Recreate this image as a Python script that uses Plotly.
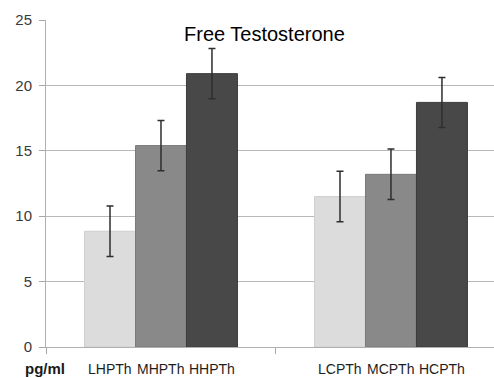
import plotly.graph_objects as go

# Free testosterone (pg/ml) by group, with error bars
groups = ["HPTh", "CPTh"]
levels = ["L", "M", "H"]
values = {
    "L": [8.85, 11.5],
    "M": [15.4, 13.2],
    "H": [20.9, 18.7],
}
errors = {
    "L": [1.93, 1.93],
    "M": [1.92, 1.93],
    "H": [1.93, 1.91],
}
fill_colors = {"L": "#dcdcdc", "M": "#898989", "H": "#484848"}
edge_colors = {"L": "#cfcfcf", "M": "#7a7a7a", "H": "#3c3c3c"}
y_ticks = [0, 5, 10, 15, 20, 25]
unit_label = "pg/ml"
title_text = "Free Testosterone"

BARGAP = 0.335
bar_w = (1 - BARGAP) / len(levels)
gx = list(range(len(groups)))

fig = go.Figure()
for lv in levels:
    fig.add_trace(go.Bar(
        x=gx, y=values[lv], name=lv,
        marker=dict(color=fill_colors[lv], line=dict(color=edge_colors[lv], width=1)),
        error_y=dict(type="data", array=errors[lv], color="#2e2e2e",
                     thickness=1.5, width=3.5),
        showlegend=False,
    ))

# category labels under each bar
for gi, g in enumerate(groups):
    for li, lv in enumerate(levels):
        cx = gi + (li - (len(levels) - 1) / 2) * bar_w
        fig.add_annotation(
            x=cx, y=-0.067, xref="x", yref="paper",
            text=lv + g, showarrow=False, yanchor="middle",
            font=dict(family="Liberation Sans", size=14, color="#1e1e1e"),
        )

fig.add_annotation(
    x=-0.003, y=-0.067, xref="paper", yref="paper", text="<b>" + unit_label + "</b>",
    showarrow=False, yanchor="middle", xanchor="center",
    font=dict(family="Liberation Sans", size=15, color="#1a1a1a"),
)
fig.add_annotation(
    x=0.487, y=0.957, xref="paper", yref="paper", text=title_text,
    showarrow=False, yanchor="middle", xanchor="center",
    font=dict(family="Liberation Sans", size=20, color="#000000"),
)

fig.update_layout(
    width=494, height=378,
    margin=dict(l=46, r=0, t=20, b=31),
    paper_bgcolor="white", plot_bgcolor="white",
    barmode="group", bargap=BARGAP, bargroupgap=0,
    xaxis=dict(
        range=[-0.5, 1.448], tickvals=[-0.5, 0.5], ticktext=["", ""],
        ticks="outside", ticklen=6, tickcolor="#a8a8a8",
        showline=True, linecolor="#b0b0b0", linewidth=1,
        showgrid=False, zeroline=False, fixedrange=True,
    ),
    yaxis=dict(
        range=[0, 25], tickvals=y_ticks,
        ticks="outside", ticklen=6, tickcolor="#a8a8a8",
        showline=True, linecolor="#b0b0b0", linewidth=1,
        showgrid=True, gridcolor="#b8b8b8", gridwidth=1, zeroline=False,
        tickfont=dict(family="Liberation Sans", size=15, color="#3a3a3a"),
        ticklabelstandoff=4,
    ),
)

fig.write_html("out.html")
